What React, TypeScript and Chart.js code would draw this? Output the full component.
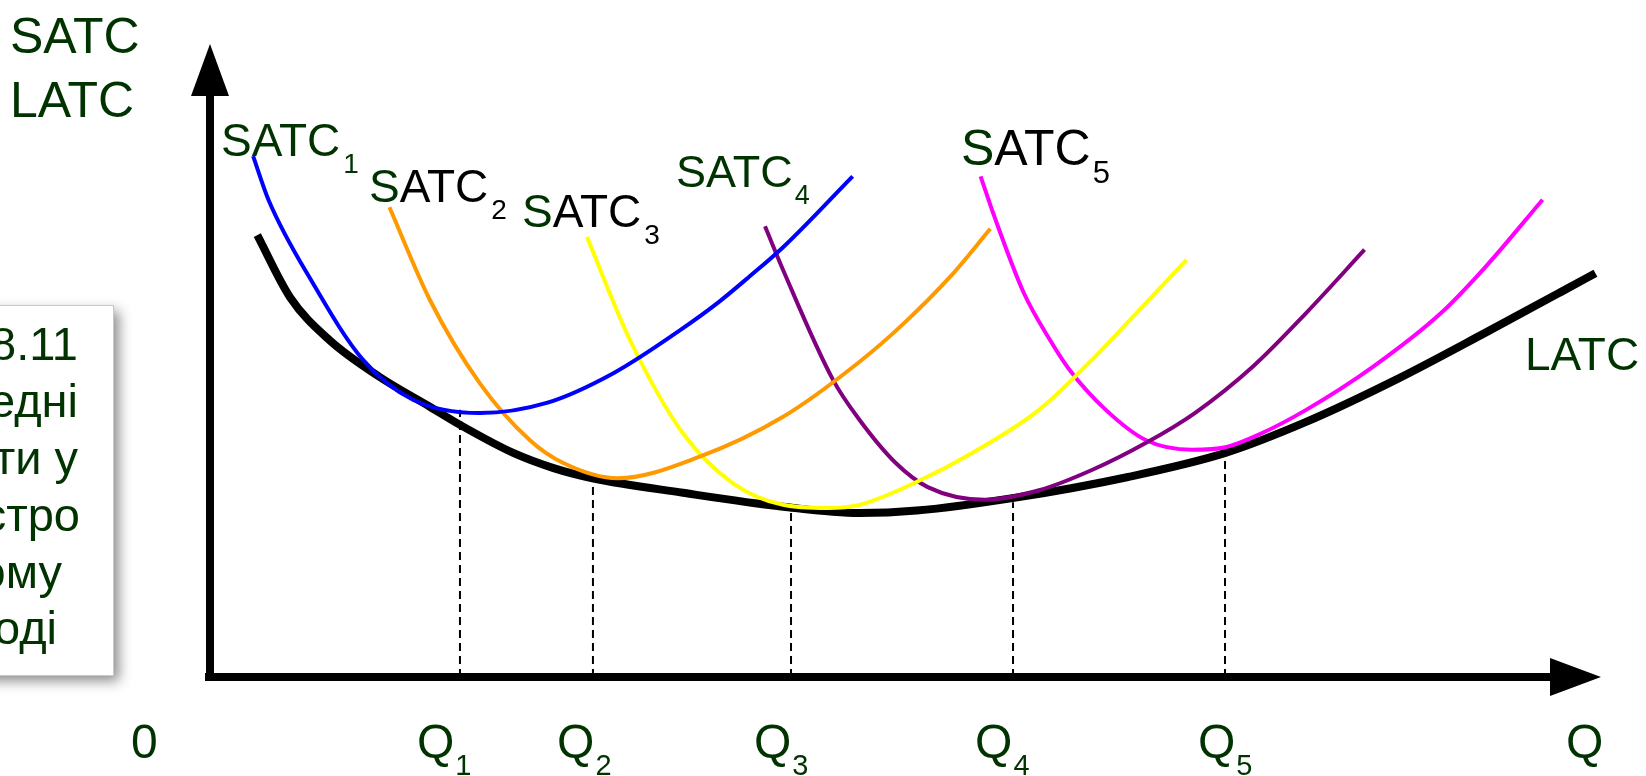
import React, { useEffect, useRef } from "react";
import { Chart, registerables } from "chart.js";
Chart.register(...registerables);

// Units: quantity Q on 0..100, cost on 0..100
const latcQ = [3.4, 5.75, 8.6, 12.2, 15.8, 18.0, 21.8, 24.7, 27.5, 34.0, 41.2, 46.7, 50.8, 57.8, 66.0, 73.0, 78.8, 85.2, 91.7, 97.1, 99.6];
const latcC = [69.8, 60.0, 53.2, 47.4, 42.7, 39.8, 35.4, 33.0, 31.4, 29.1, 26.9, 25.9, 26.3, 28.3, 31.6, 35.4, 40.3, 46.9, 54.4, 60.8, 63.8];

const satc1Q = [3.1, 4.2, 7.4, 11.0, 14.6, 19.4, 24.2, 29.0, 33.8, 36.5, 38.8, 41.2, 46.2];
const satc1C = [82.3, 75.4, 62.2, 50.1, 43.8, 41.7, 43.3, 48.0, 54.8, 59.1, 63.3, 67.9, 79.1];

const satc2Q = [12.9, 15.8, 19.4, 23.0, 25.4, 29.3, 35.2, 41.2, 46.7, 49.9, 53.2, 56.1];
const satc2C = [74.2, 59.6, 46.4, 37.4, 33.8, 31.4, 34.8, 41.1, 49.8, 55.9, 63.2, 70.8];

const satc3Q = [27.1, 30.2, 34.0, 37.6, 41.2, 44.4, 46.7, 50.6, 54.8, 59.6, 63.4, 66.6, 70.2];
const satc3C = [69.5, 53.2, 38.5, 30.6, 27.2, 26.7, 27.2, 30.6, 35.4, 42.2, 50.1, 57.5, 65.9];

const satc4Q = [39.9, 41.2, 44.8, 46.7, 49.3, 51.6, 55.7, 59.6, 63.4, 67.3, 70.8, 75.0, 78.8, 83.0];
const satc4C = [71.2, 64.3, 46.9, 40.6, 33.8, 30.0, 28.0, 29.5, 32.7, 37.0, 41.7, 49.1, 57.5, 67.5];

const satc5Q = [55.4, 56.3, 58.5, 60.4, 61.8, 64.4, 67.3, 70.6, 73.0, 75.6, 78.8, 83.6, 88.5, 91.7, 95.8];
const satc5C = [79.1, 73.3, 60.7, 53.2, 48.5, 42.2, 37.4, 35.9, 36.3, 38.5, 42.2, 49.0, 57.5, 64.8, 75.4];

const qMarks = [17.97, 27.53, 41.77, 57.73, 72.97];
const qTops = [42.2, 31.4, 26.4, 27.6, 36.6];
const qLabelX = [14.88, 24.95, 39.11, 55.0, 71.03];
const qSubs = ["1", "2", "3", "4", "5"];

const boxLines = ["Рис. 8.11", "Середні", "витрати у", "довгостро", "ковому", "періоді"];

const GREEN = "#003300";
const FONT = "'Liberation Sans', Arial, sans-serif";

const zip = (xs: number[], ys: number[]) => xs.map((x, i) => ({ x, y: ys[i] }));

type Seg = { t: string; c: string; s: number; dy?: number; gap?: number };
function rich(ctx: CanvasRenderingContext2D, x: number, y: number, segs: Seg[]) {
  let cx = x;
  for (const sg of segs) {
    ctx.font = `${sg.s}px ${FONT}`;
    ctx.fillStyle = sg.c;
    cx += sg.gap || 0;
    ctx.fillText(sg.t, cx, y + (sg.dy || 0));
    cx += ctx.measureText(sg.t).width;
  }
}

const decor = {
  id: "decor",
  beforeDraw(chart: any) {
    const ctx = chart.ctx as CanvasRenderingContext2D;
    ctx.save();
    ctx.shadowColor = "rgba(0,0,0,0.45)";
    ctx.shadowBlur = 12;
    ctx.shadowOffsetX = 6;
    ctx.shadowOffsetY = 6;
    ctx.fillStyle = "#ffffff";
    ctx.fillRect(-40, 305, 153, 370);
    ctx.shadowColor = "transparent";
    ctx.strokeStyle = "#c8c8c8";
    ctx.lineWidth = 1;
    ctx.strokeRect(-40, 305.5, 153.5, 370);
    ctx.font = `47px ${FONT}`;
    ctx.fillStyle = GREEN;
    ctx.textAlign = "right";
    ctx.textBaseline = "alphabetic";
    const rights = [78, 78, 78, 80, 62, 57];
    const bases = [360, 417, 474, 531, 588, 644];
    boxLines.forEach((l, i) => ctx.fillText(l, rights[i], bases[i]));
    ctx.restore();
  },
  beforeDatasetsDraw(chart: any) {
    const ctx = chart.ctx as CanvasRenderingContext2D;
    const xs = chart.scales.x, ys = chart.scales.y;
    const x0 = xs.getPixelForValue(0), y0 = ys.getPixelForValue(0);
    const yTop = ys.getPixelForValue(100), xEnd = xs.getPixelForValue(100);
    ctx.save();
    ctx.strokeStyle = "#000";
    ctx.fillStyle = "#000";
    ctx.lineWidth = 8;
    ctx.beginPath();
    ctx.moveTo(x0, y0 + 4);
    ctx.lineTo(x0, yTop + 48);
    ctx.stroke();
    ctx.beginPath();
    ctx.moveTo(x0, yTop);
    ctx.lineTo(x0 - 19, yTop + 52);
    ctx.lineTo(x0 + 19, yTop + 52);
    ctx.closePath();
    ctx.fill();
    ctx.beginPath();
    ctx.moveTo(x0 - 5, y0);
    ctx.lineTo(xEnd - 48, y0);
    ctx.stroke();
    ctx.beginPath();
    ctx.moveTo(xEnd, y0);
    ctx.lineTo(xEnd - 51, y0 - 19);
    ctx.lineTo(xEnd - 51, y0 + 19);
    ctx.closePath();
    ctx.fill();
    ctx.restore();
  },
  afterDatasetsDraw(chart: any) {
    const ctx = chart.ctx as CanvasRenderingContext2D;
    const xs = chart.scales.x;
    ctx.save();
    ctx.textAlign = "left";
    ctx.textBaseline = "alphabetic";
    rich(ctx, 10, 53, [{ t: "SATC", c: GREEN, s: 50 }]);
    rich(ctx, 10, 117, [{ t: "LATC", c: GREEN, s: 50 }]);
    rich(ctx, 221, 156, [{ t: "SATC", c: GREEN, s: 46 }, { t: "1", c: GREEN, s: 28, dy: 17, gap: 3 }]);
    rich(ctx, 369, 202, [{ t: "S", c: GREEN, s: 46 }, { t: "ATC", c: "#000", s: 46 }, { t: "2", c: "#000", s: 28, dy: 17, gap: 3 }]);
    rich(ctx, 522, 227, [{ t: "S", c: GREEN, s: 46 }, { t: "ATC", c: "#000", s: 46 }, { t: "3", c: "#000", s: 28, dy: 17, gap: 3 }]);
    rich(ctx, 676, 187, [{ t: "SATC", c: GREEN, s: 45 }, { t: "4", c: GREEN, s: 27, dy: 17, gap: 2 }]);
    rich(ctx, 961, 165, [{ t: "S", c: GREEN, s: 50 }, { t: "ATC", c: "#000", s: 50 }, { t: "5", c: "#000", s: 31, dy: 18, gap: 2 }]);
    rich(ctx, 1525, 370, [{ t: "LATC", c: GREEN, s: 46 }]);
    rich(ctx, 131, 758, [{ t: "0", c: GREEN, s: 48 }]);
    qLabelX.forEach((qx, i) => {
      const px = xs.getPixelForValue(qx);
      rich(ctx, px, 758, [{ t: "Q", c: GREEN, s: 48 }, { t: qSubs[i], c: GREEN, s: 29, dy: 17, gap: 1 }]);
    });
    rich(ctx, 1566, 758, [{ t: "Q", c: GREEN, s: 48 }]);
    ctx.restore();
  },
};

export default function App() {
  const ref = useRef<HTMLCanvasElement | null>(null);
  useEffect(() => {
    if (!ref.current) return;
    const curve = (q: number[], c: number[], color: string, width: number, order: number) => ({
      data: zip(q, c),
      borderColor: color,
      borderWidth: width,
      cubicInterpolationMode: "monotone" as const,
      pointRadius: 0,
      fill: false,
      order,
    });
    const dashes = qMarks.map((q, i) => ({
      data: [{ x: q, y: 0 }, { x: q, y: qTops[i] }],
      borderColor: "#000",
      borderWidth: 2,
      borderDash: [8, 5],
      pointRadius: 0,
      tension: 0,
      fill: false,
      order: 20,
    }));
    const chart = new Chart(ref.current, {
      type: "line",
      data: {
        datasets: [
          curve(satc1Q, satc1C, "#0000ff", 4, 1),
          curve(satc2Q, satc2C, "#ff9900", 4, 2),
          curve(satc3Q, satc3C, "#ffff00", 4, 3),
          curve(satc4Q, satc4C, "#800080", 4, 4),
          curve(satc5Q, satc5C, "#ff00ff", 4, 5),
          curve(latcQ, latcC, "#000000", 8, 10),
          ...dashes,
        ] as any,
      },
      options: {
        responsive: false,
        animation: false,
        devicePixelRatio: 1,
        layout: { padding: { left: 210, right: 45, top: 44, bottom: 99 } },
        scales: {
          x: { type: "linear", min: 0, max: 100, display: false },
          y: { type: "linear", min: 0, max: 100, display: false },
        },
        plugins: { legend: { display: false }, tooltip: { enabled: false } },
        elements: { point: { radius: 0 } },
      },
      plugins: [decor],
    });
    return () => chart.destroy();
  }, []);
  return (
    <div style={{ position: "absolute", left: 0, top: 0, width: 1646, height: 776, background: "#fff" }}>
      <canvas ref={ref} width={1646} height={776} style={{ display: "block" }} />
    </div>
  );
}
